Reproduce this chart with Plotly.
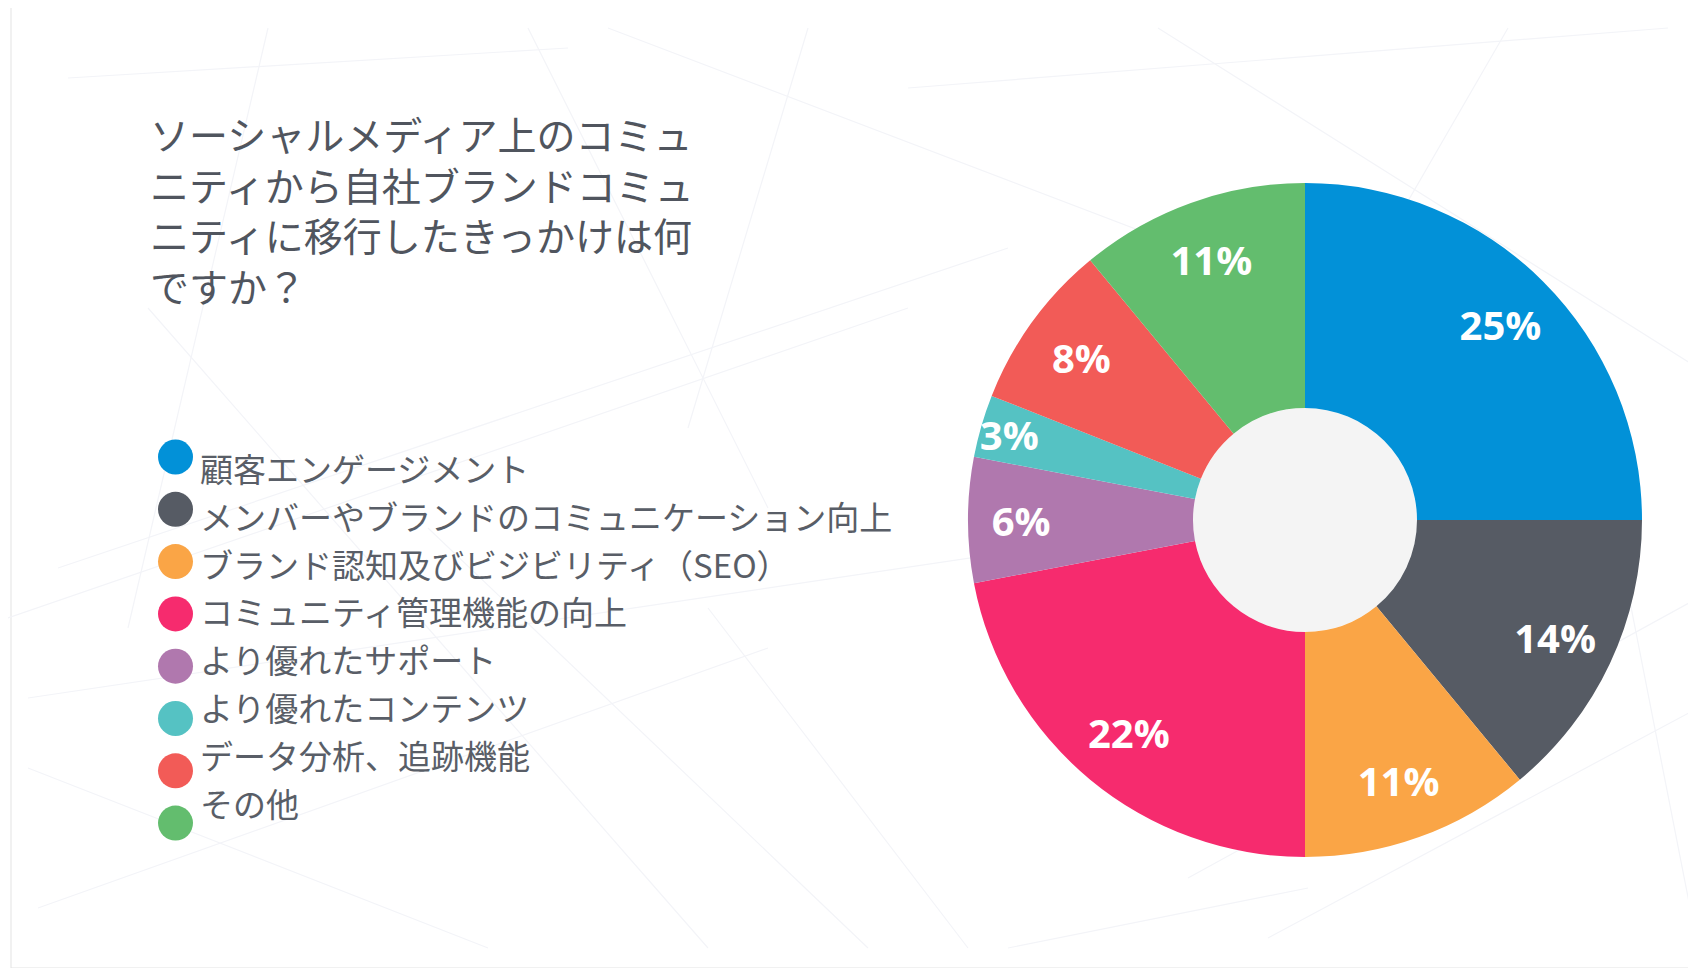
import plotly.graph_objects as go

W, H = 1696, 968

title_lines = [
    "ソーシャルメディア上のコミュ",
    "ニティから自社ブランドコミュ",
    "ニティに移行したきっかけは何",
    "ですか？",
]
labels = [
    "顧客エンゲージメント",
    "メンバーやブランドのコミュニケーション向上",
    "ブランド認知及びビジビリティ（SEO）",
    "コミュニティ管理機能の向上",
    "より優れたサポート",
    "より優れたコンテンツ",
    "データ分析、追跡機能",
    "その他",
]
values = [25, 14, 11, 22, 6, 3, 8, 11]
colors = ["#0291d8", "#565b64", "#faa546", "#f62b6e",
          "#b078ae", "#55c2c3", "#f25b57", "#63bd6e"]

# pie geometry in pixels
cx, cy, R, r_hole = 1297, 512, 337, 112
dom = dict(x=[(cx - R) / W, (cx + R) / W],
           y=[1 - (cy + R) / H, 1 - (cy - R) / H])

fig = go.Figure()

fig.add_trace(go.Pie(
    labels=labels,
    values=values,
    textinfo="none",
    marker=dict(colors=colors, line=dict(width=0)),
    sort=False,
    direction="clockwise",
    rotation=0,
    hole=r_hole / R,
    domain=dom,
    showlegend=False,
    hoverinfo="label+percent",
))

# transparent overlay ring only to push the percent labels outward
fig.add_trace(go.Pie(
    labels=labels,
    values=values,
    text=[f"{v}%" for v in values],
    textinfo="text",
    textposition="inside",
    insidetextorientation="horizontal",
    insidetextfont=dict(family="Open Sans", size=40, color="white", weight="bold"),
    marker=dict(colors=["rgba(0,0,0,0)"] * len(values), line=dict(width=0)),
    sort=False,
    direction="clockwise",
    rotation=0,
    hole=0.64,
    domain=dom,
    showlegend=False,
    hoverinfo="skip",
))

shapes = []
# card with shadow
shapes.append(dict(type="rect", x0=6, x1=1696, y0=-10, y1=964,
                   fillcolor="#d9d9d9", line=dict(width=0), layer="below"))
shapes.append(dict(type="rect", x0=3, x1=1693, y0=-10, y1=960,
                   fillcolor="white", line=dict(color="#e3e3e3", width=1), layer="below"))

# faint background mesh
bg = "#f3f4f8"
mesh = [
    (60, 70, 560, 40), (260, 20, 120, 620), (520, 20, 760, 500),
    (600, 20, 1230, 260), (800, 20, 680, 420), (900, 80, 1660, 20),
    (1150, 20, 1690, 360), (1500, 20, 1240, 470), (50, 560, 1000, 240),
    (20, 690, 1500, 470), (0, 610, 900, 300), (30, 900, 760, 640),
    (20, 760, 480, 940), (420, 520, 860, 940), (1180, 870, 1690, 590),
    (1260, 930, 1690, 700), (1580, 380, 1690, 940), (700, 600, 960, 940),
    (140, 300, 700, 940), (1000, 940, 1300, 880),
]
for x0, y0, x1, y1 in mesh:
    shapes.append(dict(type="line", x0=x0, y0=y0, x1=x1, y1=y1,
                       line=dict(color=bg, width=1.2), layer="below"))

# donut hole fill
shapes.append(dict(type="circle", x0=cx - r_hole, x1=cx + r_hole,
                   y0=cy - r_hole, y1=cy + r_hole,
                   fillcolor="#f4f4f4", line=dict(width=0), layer="below"))

annotations = [dict(
    x=140, y=95, xref="x", yref="y", xanchor="left", yanchor="top",
    align="left", showarrow=False, text="<br>".join(title_lines),
    font=dict(family="Noto Sans CJK JP", size=39, color="#50555e"),
)]

# custom legend with round markers
for i, (lab, col) in enumerate(zip(labels, colors)):
    my = 449 + i * 52.3
    shapes.append(dict(type="circle", x0=150, x1=185, y0=my - 17.5, y1=my + 17.5,
                       fillcolor=col, line=dict(width=0)))
    annotations.append(dict(
        x=190, y=460 + i * 47.8, xref="x", yref="y", xanchor="left", yanchor="middle",
        showarrow=False, text=lab,
        font=dict(family="Noto Sans CJK JP", size=33, color="#595e67"),
    ))

fig.update_layout(
    width=W, height=H,
    margin=dict(l=0, r=0, t=0, b=0),
    paper_bgcolor="white",
    plot_bgcolor="rgba(0,0,0,0)",
    xaxis=dict(range=[0, W], visible=False, fixedrange=True),
    yaxis=dict(range=[H, 0], visible=False, fixedrange=True),
    shapes=shapes,
    annotations=annotations,
    uniformtext=dict(minsize=40, mode="show"),
)

fig.write_html("out.html")
